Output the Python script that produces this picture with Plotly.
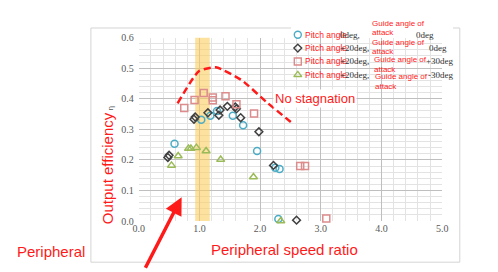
import plotly.graph_objects as go

# ---------------- data ----------------
blue_x = [0.59, 1.03, 1.18, 1.29, 1.55, 1.72, 1.95, 2.25, 2.32, 2.30]
blue_y = [0.253, 0.331, 0.344, 0.360, 0.344, 0.313, 0.229, 0.174, 0.170, 0.007]

black_x = [0.48, 0.50, 0.91, 0.93, 1.14, 1.32, 1.34, 1.46, 1.59, 1.61, 1.68, 1.98, 2.22, 2.60]
black_y = [0.208, 0.215, 0.333, 0.340, 0.354, 0.346, 0.363, 0.375, 0.373, 0.367, 0.338, 0.292, 0.182, 0.003]

red_x = [0.75, 0.92, 1.07, 1.22, 1.22, 1.43, 1.61, 1.90, 2.66, 2.74, 3.09]
red_y = [0.370, 0.396, 0.419, 0.404, 0.395, 0.408, 0.382, 0.352, 0.180, 0.180, 0.008]

green_x = [0.54, 0.65, 0.82, 0.86, 0.95, 1.11, 1.35, 1.89, 2.34]
green_y = [0.182, 0.213, 0.237, 0.237, 0.240, 0.229, 0.201, 0.144, 0.000]

trend_x = [0.64, 0.99, 1.27, 1.70, 2.10, 2.56]
trend_y = [0.385, 0.490, 0.503, 0.460, 0.390, 0.315]

band_range = [0.93, 1.17]

x_ticks = [0, 1, 2, 3, 4, 5]
x_ticklabels = ["0.0", "1.0", "2.0", "3.0", "4.0", "5.0"]
y_ticks = [0, 0.1, 0.2, 0.3, 0.4, 0.5, 0.6]
y_ticklabels = ["0.0", "0.1", "0.2", "0.3", "0.4", "0.5", "0.6"]

series_names = ["Pitch angle 0deg, Guide angle of attack 0deg",
                "Pitch angle +20deg, Guide angle of attack 0deg",
                "Pitch angle +20deg, Guide angle of attack +30deg",
                "Pitch angle +20deg, Guide angle of attack -30deg"]
legend_pitch = ["0deg,", "+20deg,", "+20deg,", "+20deg,"]
legend_guide = ["0deg", "0deg", "+30deg", "-30deg"]

# ---------------- layout constants (pixels) ----------------
W, H = 498, 272
L, R, T, B = 136, 447, 33, 225

def px(x):
    return x / W

def py(y):
    return 1 - y / H

RED = "#ff1a1a"
SANS = "Liberation Sans"
SERIF = "Liberation Serif, Times New Roman, serif"

colors = ["#4bacc6", "#404040", "#dc8c8c", "#9bbb59"]
symbols = ["circle-open", "diamond-open", "square-open", "triangle-up-open"]
sizes = [7, 6, 7, 7]
xs = [blue_x, black_x, red_x, green_x]
ys = [blue_y, black_y, red_y, green_y]

fig = go.Figure()

for i in range(4):
    fig.add_trace(go.Scatter(
        x=xs[i], y=ys[i], mode="markers", name=series_names[i],
        marker=dict(symbol=symbols[i], size=sizes[i], color=colors[i],
                    line=dict(width=1.5, color=colors[i])),
        cliponaxis=False, showlegend=False))

fig.add_trace(go.Scatter(
    x=trend_x, y=trend_y, mode="lines", line_shape="spline",
    line=dict(color=RED, width=2.5, dash="7px,4px", smoothing=0.5),
    showlegend=False))

# legend keys, on a full-figure pixel overlay axis pair
for i in range(4):
    fig.add_trace(go.Scatter(
        x=[299], y=[30 + 14 * i], mode="markers",
        marker=dict(symbol=symbols[i], size=sizes[i], color=colors[i],
                    line=dict(width=1.4, color=colors[i])),
        xaxis="x2", yaxis="y2", cliponaxis=False, showlegend=False))

shapes = [
    dict(type="rect", xref="paper", yref="paper",
         x0=px(87), x1=px(465), y0=py(268), y1=py(23),
         line=dict(color="#d4d4d4", width=1), layer="below"),
    dict(type="rect", xref="x", yref="y",
         x0=band_range[0], x1=band_range[1], y0=0, y1=0.6,
         fillcolor="rgba(250,205,95,0.6)", line=dict(width=0), layer="between"),
    dict(type="rect", xref="paper", yref="paper",
         x0=px(292), x1=px(458), y0=py(79), y1=py(22),
         fillcolor="white", line=dict(width=0), layer="between"),
]

ann = []
def text(x, y, s, size, color, family, xanchor="left", **kw):
    ann.append(dict(x=px(x), y=py(y), xref="paper", yref="paper", text=s,
                    showarrow=False, xanchor=xanchor, yanchor="middle",
                    font=dict(size=size, color=color, family=family), **kw))

guide_x = [373, 373, 375, 376]
guide_y1 = [18, 38, 56, 74]
final_x = [418, 431, 428, 430]
for i in range(4):
    yrow = 30 + 14 * i
    text(304, yrow, "Pitch angle", 8.5, RED, SANS)
    text(340, yrow, legend_pitch[i], 9, "#333333", SERIF)
    text(guide_x[i], guide_y1[i], "Guide angle of", 8, RED, SANS)
    text(guide_x[i], guide_y1[i] + 10, "attack", 8, RED, SANS)
    text(final_x[i], yrow, legend_guide[i], 9, "#333333", SERIF)

text(317, 97, "No stagnation", 13, RED, SANS, xanchor="center",
     bgcolor="white", borderpad=1)
text(285, 255, "Peripheral speed ratio", 15, RED, SANS, xanchor="center")
text(46, 257, "Peripheral", 15, RED, SANS, xanchor="center")
ann.append(dict(x=px(104), y=py(166), xref="paper", yref="paper",
                text="Output efficiency<span style='font-size:8px;color:#555555'> η</span>",
                textangle=-90, showarrow=False, xanchor="center", yanchor="middle",
                font=dict(size=15, color=RED, family=SANS)))
ann.append(dict(x=0.707, y=0.078, xref="x", yref="y", text="",
                showarrow=True, arrowhead=2, arrowsize=1, arrowwidth=3.5,
                arrowcolor=RED, ax=-37, ay=72))

fig.update_layout(
    width=W, height=H,
    margin=dict(l=0, r=0, t=0, b=0, pad=0),
    paper_bgcolor="white", plot_bgcolor="rgba(0,0,0,0)",
    shapes=shapes, annotations=ann,
    xaxis=dict(domain=[L / W, R / W], range=[0, 5],
               tickvals=x_ticks, ticktext=x_ticklabels,
               showgrid=True, gridcolor="#bfbfbf", gridwidth=1,
               minor=dict(dtick=0.2, showgrid=True, gridcolor="#e3e3e3"),
               zeroline=False, showline=False, ticks="",
               tickfont=dict(family=SERIF, size=10, color="#595959")),
    yaxis=dict(domain=[1 - B / H, 1 - T / H], range=[0, 0.6],
               tickvals=y_ticks, ticktext=y_ticklabels,
               showgrid=True, gridcolor="#bfbfbf", gridwidth=1,
               minor=dict(dtick=0.02, showgrid=True, gridcolor="#e3e3e3"),
               zeroline=False, showline=False, ticks="",
               ticklabelstandoff=4,
               tickfont=dict(family=SERIF, size=10, color="#595959")),
    xaxis2=dict(domain=[0, 1], range=[0, W], anchor="y2", visible=False),
    yaxis2=dict(domain=[0, 1], range=[H, 0], anchor="x2", visible=False),
)

fig.write_html("out.html", config={"displayModeBar": False},
               post_script="document.body.style.margin='0';")
